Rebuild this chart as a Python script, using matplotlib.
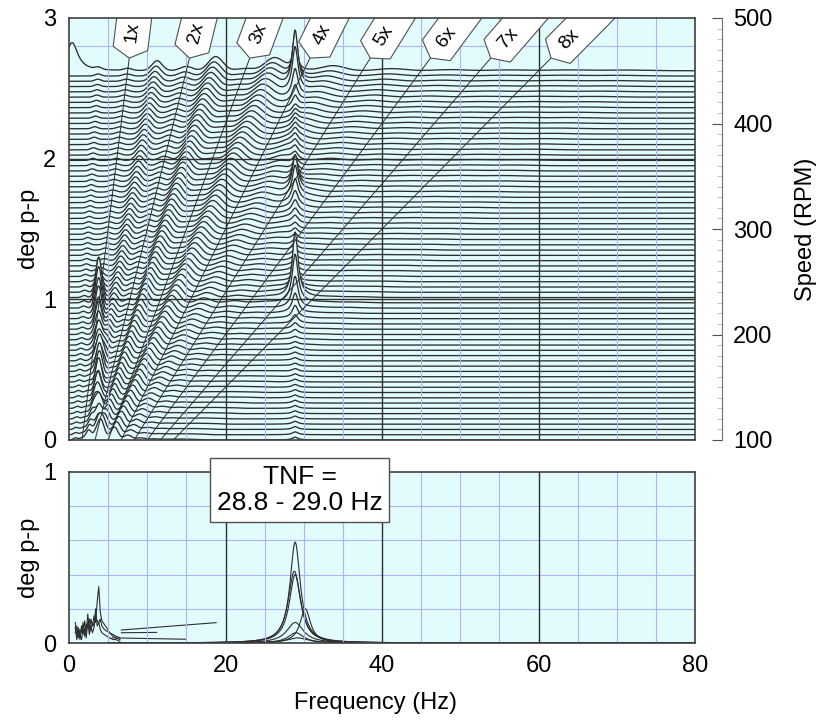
import numpy as np
import matplotlib
matplotlib.use("Agg")
import matplotlib.pyplot as plt
from matplotlib import transforms
from matplotlib.patches import Polygon

plt.rcParams['font.family'] = ['Liberation Sans', 'DejaVu Sans']

BG = '#e2fbfd'
MINOR_GRID = '#aeb4f2'
MAJOR_GRID = '#303030'
INK = '#2e2e2e'

freq = np.linspace(0, 80, 1601)

# waterfall traces, front (slow) to back (fast), in RPM
speeds = np.arange(100, 455, 5)
rpm_lo, rpm_hi = 100, 500   # right-hand speed scale spans the 0..3 deg p-p axis

# ridges that follow running speed (order, peak deg p-p)
ridge_orders = [0.5, 1.0, 1.5, 2.0, 2.5, 3.0, 3.5, 4.5, 5.5, 6.5, 7.5, 8.5, 9.5]
ridge_amps = [0.015, 0.015, 0.07, 0.03, 0.10, 0.015, 0.09, 0.035, 0.015, 0.008, 0.006, 0.006, 0.005]

# torsional natural frequency, peak height on each trace
tnf_hz = 28.9
tnf_amp = ([0.02] * 20 +
           [0.03, 0.04, 0.06, 0.09, 0.14, 0.22, 0.34, 0.46, 0.30, 0.16, 0.09, 0.06, 0.05] +
           [0.04] * 8 +
           [0.05, 0.06, 0.08, 0.11, 0.16, 0.22, 0.26, 0.22, 0.15, 0.10, 0.07, 0.06] +
           [0.05] * 10 +
           [0.08, 0.12, 0.20, 0.32, 0.40, 0.33, 0.22, 0.14])

# low-frequency resonance seen on the slow traces
lf_hz = 3.8
lf_amp = ([0.06, 0.09, 0.07, 0.11, 0.06, 0.12, 0.08, 0.10, 0.13] +
          [0.09, 0.14, 0.08, 0.12, 0.15, 0.10, 0.16, 0.11, 0.14, 0.17, 0.13] +
          [0.16, 0.19, 0.18, 0.22, 0.24, 0.28, 0.31, 0.27] +
          [0.16, 0.09, 0.05, 0.03, 0.02] +
          [0.0] * 38)
top_hump = 0.2

# order cursor lines
orders = [1, 2, 3, 4, 5, 6, 7, 8]
order_end_rpm = 462

# lower panel: overlaid spectra through the resonance
tnf_peak_hz = [28.9, 28.8, 28.9, 30.2, 28.9, 29.0, 29.2]
tnf_peak_amps = [0.59, 0.42, 0.40, 0.20, 0.12, 0.06, 0.03]
tnf_peak_width = [0.8, 0.95, 0.9, 0.8, 1.3, 1.2, 1.6]
lf_pts_hz = [0.8, 1.0, 1.2, 1.4, 1.6, 1.8, 2.0, 2.2, 2.4, 2.6, 2.8, 3.0,
             3.2, 3.4, 3.6, 3.8, 4.0, 4.2, 4.5, 4.8, 5.2, 5.6, 6.0, 6.5]
lf_pts_a = [0.12, 0.04, 0.09, 0.02, 0.10, 0.05, 0.13, 0.06, 0.17, 0.08, 0.14, 0.10,
            0.16, 0.12, 0.24, 0.33, 0.18, 0.13, 0.11, 0.09, 0.06, 0.05, 0.04, 0.03]
lf_pts_b = [0.06, 0.10, 0.03, 0.08, 0.06, 0.12, 0.04, 0.11, 0.09, 0.14, 0.07, 0.12,
            0.10, 0.15, 0.13, 0.12, 0.14, 0.10, 0.08, 0.07, 0.06, 0.04, 0.03, 0.02]
lf_pts_c = [0.09, 0.02, 0.07, 0.05, 0.02, 0.09, 0.08, 0.03, 0.12, 0.05, 0.10, 0.06,
            0.09, 0.20, 0.10, 0.12, 0.08, 0.06, 0.05, 0.04, 0.03, 0.02, 0.02, 0.01]
ramp_hz = [[6.7, 18.8], [6.7, 11.2], [5.5, 15.0]]
ramp_amp = [[0.076, 0.119], [0.060, 0.062], [0.030, 0.022]]


def to_deg(rpm):
    return (rpm - rpm_lo) / (rpm_hi - rpm_lo) * 3.0


def lorentz(f0, a, w):
    return a / (1 + ((freq - f0) / w) ** 2)


def gauss(f0, a, s):
    return a * np.exp(-0.5 * ((freq - f0) / s) ** 2)


def spectrum(i, rpm):
    s = lorentz(tnf_hz, tnf_amp[i], 0.45) + gauss(lf_hz, lf_amp[i], 0.4)
    for k, a in zip(ridge_orders, ridge_amps):
        f0 = k * rpm / 60
        s = s + gauss(f0, a, 0.25 + 0.035 * f0)
    return s


fig = plt.figure(figsize=(8.2, 7.24), dpi=100)
ax1 = fig.add_axes([69 / 820, (724 - 440) / 724, 626 / 820, 422 / 724])
ax2 = fig.add_axes([69 / 820, (724 - 643) / 724, 626 / 820, 171 / 724])

for ax in (ax1, ax2):
    ax.set_facecolor(BG)
    ax.set_xlim(0, 80)
    ax.set_xticks([0, 20, 40, 60, 80])
    ax.tick_params(which='both', length=0, labelsize=17, pad=9)
    for x in np.arange(5, 80, 5):
        major = x % 20 == 0
        ax.axvline(x, color=MAJOR_GRID if major else MINOR_GRID,
                   lw=1.0 if major else 0.8, zorder=2.6 if major else 2.5)
    for sp in ax.spines.values():
        sp.set_color('#404040')
        sp.set_linewidth(1.2)
        sp.set_zorder(6)

ax1.set_ylim(0, 3)
ax1.set_yticks([0, 1, 2, 3])
ax1.tick_params(labelbottom=False)
for y in np.arange(0.2, 3.0, 0.2):
    if abs(y - round(y)) < 1e-6:
        ax1.axhline(y, color=MAJOR_GRID, lw=1.0, zorder=2.6)
    else:
        # light lines sit under the trace stack and only show above it
        ax1.axhline(y, color=MINOR_GRID, lw=0.8, zorder=1.2)

ax2.set_ylim(0, 1)
ax2.set_yticks([0, 1])
for y in np.arange(0.2, 1.0, 0.2):
    ax2.axhline(y, color=MINOR_GRID, lw=0.8, zorder=1.2)

# waterfall with hidden lines: back traces first, each front trace masks what is behind it
top_curve = None
for i in range(len(speeds) - 1, -1, -1):
    rpm = speeds[i]
    b = to_deg(rpm)
    s = spectrum(i, rpm)
    if i == len(speeds) - 1:
        s = s + lorentz(0.4, top_hump, 0.9)
        top_curve = b + s
    ax1.fill_between(freq, b, b + s, color=BG, lw=0, zorder=2)
    ax1.plot(freq, b + s, color=INK, lw=0.95, zorder=2)
ax1.fill_between(freq, 0, top_curve, color=BG, lw=0, zorder=1.5)

# order lines with their tags
for k in orders:
    f_lo = k * rpm_lo / 60
    f_tip = k * order_end_rpm / 60
    y_tip = to_deg(order_end_rpm)
    ax1.plot([f_lo, f_tip], [0, y_tip], color=INK, lw=0.7, zorder=3)
    p0 = ax1.transData.transform((f_lo, 0))
    p1 = ax1.transData.transform((f_tip, y_tip))
    ang = np.degrees(np.arctan2(p1[1] - p0[1], p1[0] - p0[0]))
    trans = (transforms.Affine2D().rotate_deg(ang).scale(1 / 72)
             + fig.dpi_scale_trans
             + transforms.ScaledTranslation(f_tip, y_tip, ax1.transData))
    tag = Polygon([(0, 0), (7, -12.5), (62, -12.5), (62, 12.5), (7, 12.5)], closed=True,
                  transform=trans, fc='white', ec='#505050', lw=0.8, zorder=4)
    ax1.add_patch(tag)
    ax1.text(19, 0, f'{k}x', transform=trans, rotation=ang, rotation_mode='anchor',
             ha='center', va='center', fontsize=14, zorder=5, clip_on=True)

ax1.set_xlim(0, 80)
ax1.set_ylim(0, 3)

# speed scale on the right
axr = ax1.twinx()
axr.set_ylim(rpm_lo, rpm_hi)
axr.set_yticks([100, 200, 300, 400, 500])
axr.set_yticks(np.arange(100, 501, 10), minor=True)
for side in ('left', 'top', 'bottom'):
    axr.spines[side].set_visible(False)
axr.spines['right'].set_position(('outward', 19.5))
axr.spines['right'].set_color('#707070')
axr.tick_params(which='major', direction='in', length=7, color='#505050', labelsize=17, pad=8)
axr.tick_params(which='minor', direction='in', length=3.5, color='#b0b4d8')
axr.set_ylabel('Speed (RPM)', fontsize=17)
axr.yaxis.set_label_coords(1.16, 0.5)

ax1.set_ylabel('deg p-p', fontsize=17)
ax1.yaxis.set_label_coords(-0.047, 0.5)

# lower panel spectra
for f0, a, w in zip(tnf_peak_hz, tnf_peak_amps, tnf_peak_width):
    ax2.plot(freq[freq >= 5], lorentz(f0, a, w)[freq >= 5], color=INK, lw=0.8, zorder=2)
for pts in (lf_pts_a, lf_pts_b, lf_pts_c):
    ax2.plot(lf_pts_hz, pts, color=INK, lw=0.8, zorder=2)
for fx, ay in zip(ramp_hz, ramp_amp):
    ax2.plot(fx, ay, color=INK, lw=0.8, zorder=2)

ax2.set_ylabel('deg p-p', fontsize=17)
ax2.yaxis.set_label_coords(-0.047, 0.5)
ax2.set_xlabel('Frequency (Hz)', fontsize=17)
ax2.xaxis.set_label_coords(0.49, -0.285)

ax2.text(29.5, 0.895, 'TNF =\n28.8 - 29.0 Hz', ha='center', va='center', fontsize=19,
         linespacing=1.15, zorder=10, clip_on=False,
         bbox=dict(boxstyle='square,pad=0.25', fc='white', ec='#505050', lw=1.0))

fig.savefig('out.png', dpi=100)
